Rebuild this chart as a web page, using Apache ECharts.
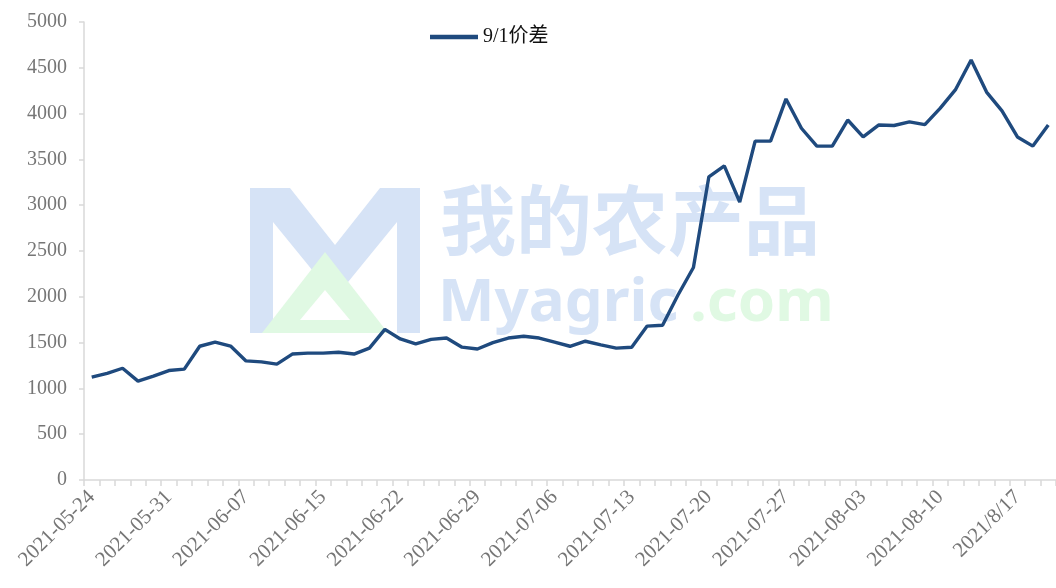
<!DOCTYPE html>
<html>
<head>
<meta charset="utf-8">
<script src="https://cdn.jsdelivr.net/npm/echarts@6/dist/echarts.min.js"></script>
<style>
html,body{margin:0;padding:0;background:#fff;}
#c{width:1056px;height:588px;}
</style>
</head>
<body>
<div id="c"></div>
<script>
var seriesName = '9/1价差';
var categories = [
 '2021-05-24','2021-05-25','2021-05-26','2021-05-27','2021-05-28',
 '2021-05-31','2021-06-01','2021-06-02','2021-06-03','2021-06-04',
 '2021-06-07','2021-06-08','2021-06-09','2021-06-10','2021-06-11',
 '2021-06-15','2021-06-16','2021-06-17','2021-06-18','2021-06-21',
 '2021-06-22','2021-06-23','2021-06-24','2021-06-25','2021-06-28',
 '2021-06-29','2021-06-30','2021-07-01','2021-07-02','2021-07-05',
 '2021-07-06','2021-07-07','2021-07-08','2021-07-09','2021-07-12',
 '2021-07-13','2021-07-14','2021-07-15','2021-07-16','2021-07-19',
 '2021-07-20','2021-07-21','2021-07-22','2021-07-23','2021-07-26',
 '2021-07-27','2021-07-28','2021-07-29','2021-07-30','2021-08-02',
 '2021-08-03','2021-08-04','2021-08-05','2021-08-06','2021-08-09',
 '2021-08-10','2021-08-11','2021-08-12','2021-08-13','2021-08-16',
 '2021/8/17','2021/8/18','2021/8/19'
];
var spread = [
 1124,1165,1220,1080,1135,
 1195,1210,1460,1505,1462,
 1300,1290,1265,1375,1385,
 1385,1395,1375,1440,1645,
 1540,1485,1535,1550,1450,
 1430,1500,1550,1570,1550,
 1505,1460,1515,1475,1440,
 1450,1680,1690,2020,2320,
 3310,3430,3035,3700,3700,
 4160,3840,3645,3645,3930,
 3745,3875,3870,3910,3880,
 4060,4265,4585,4235,4030,
 3745,3645,3875
];
var yTicks = {min:0, max:5000, interval:500};

var chart = echarts.init(document.getElementById('c'));
var axisGray = '#d9d9d9';
var labelGray = '#767676';
chart.setOption({
  animation:false,
  backgroundColor:'#ffffff',
  grid:{left:84, right:0, top:22, bottom:108, containLabel:false},
  legend:{
    top:22, left:425,
    itemWidth:48, itemHeight:14, itemGap:8,
    textStyle:{fontFamily:'"Liberation Serif","Noto Sans CJK SC",serif', fontSize:20, color:'#111'},
    data:[{name:seriesName, icon:'path://M0,0 L48,0 L48,4.5 L0,4.5 Z'}]
  },
  xAxis:{
    type:'category',
    data:categories,
    boundaryGap:true,
    axisLine:{show:true, lineStyle:{color:axisGray, width:1.5}},
    axisTick:{show:true, interval:0, length:6, lineStyle:{color:axisGray, width:1.5}},
    axisLabel:{
      interval:4, rotate:45, margin:14,
      fontFamily:'"Liberation Serif",serif', fontSize:21, color:labelGray
    },
    splitLine:{show:false}
  },
  yAxis:{
    type:'value',
    min:yTicks.min, max:yTicks.max, interval:yTicks.interval,
    axisLine:{show:true, lineStyle:{color:axisGray, width:1.5}},
    axisTick:{show:true, length:5, lineStyle:{color:axisGray, width:1.5}},
    axisLabel:{fontFamily:'"Liberation Serif",serif', fontSize:20, color:labelGray, margin:17,
      formatter:function(v){return String(v);}},
    splitLine:{show:false}
  },
  graphic:[
    {type:'polygon', z:-10, silent:true,
     shape:{points:[[250,188],[290,188],[335,245],[380,188],[420,188],[420,333],[397,333],[397,222],[335,298],[273,222],[273,333],[250,333]]},
     style:{fill:'#d6e3f6'}},
    {type:'polygon', z:-9, silent:true,
     shape:{points:[[262,333],[325,252],[388,333]]},
     style:{fill:'#e0f9e3'}},
    {type:'polygon', z:-8, silent:true,
     shape:{points:[[300,320],[325,290],[350,320]]},
     style:{fill:'#ffffff'}},
    {type:'text', z:-10, silent:true, left:440, top:182,
     style:{text:'我的农产品', font:'bold 76px "Noto Sans CJK SC"', fill:'#d6e3f6'}},
    {type:'text', z:-10, silent:true, left:438, top:274,
     style:{text:'Myagric', font:'bold 60px "Noto Sans", sans-serif', fill:'#d6e3f6'}},
    {type:'text', z:-10, silent:true, left:690, top:274,
     style:{text:'.com', font:'bold 60px "Noto Sans", sans-serif', fill:'#e0f9e3'}}
  ],
  series:[{
    name:seriesName,
    type:'line',
    data:spread,
    symbol:'none',
    smooth:false,
    lineStyle:{color:'#1f4a7e', width:3.4},
    itemStyle:{color:'#1f4a7e'}
  }]
});
</script>
</body>
</html>
